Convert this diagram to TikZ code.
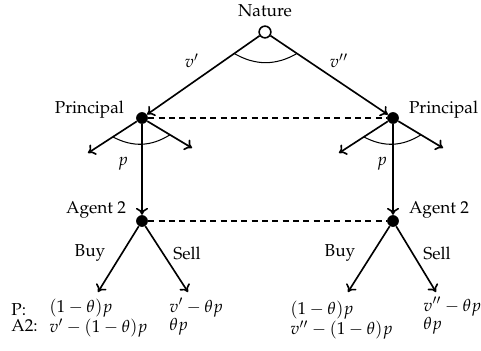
\documentclass[tikz,border=0pt]{standalone}
\usepackage[T1]{fontenc}
\usepackage{mathpazo}
\usetikzlibrary{calc,arrows.meta}
\begin{document}
\begin{tikzpicture}[x=0.58pt,y=-0.58pt,
  edge/.style={line width=0.95pt,-{To[length=4pt,width=7pt]}},
  dot/.style={circle,fill=black,inner sep=0pt,minimum size=6.8pt},
  root/.style={circle,draw=black,line width=0.9pt,fill=white,inner sep=0pt,minimum size=6.8pt},
  info/.style={line width=0.8pt,dash pattern=on 3.5pt off 2.5pt},
  arcl/.style={line width=0.6pt},
  lbl/.style={inner sep=1pt,font=\fontsize{10}{12}\selectfont},
  pay/.style={inner sep=0pt,align=left,font=\fontsize{10}{9.3}\selectfont}]
\useasboundingbox (0,0) rectangle (481,351);
% nodes
\node[root] (N) at (265,32) {};
\node[dot] (P1) at (142,118) {};
\node[dot] (P2) at (393,118) {};
\node[dot] (A1) at (142,221) {};
\node[dot] (A2) at (393,221) {};
\coordinate (L1) at (88,153);
\coordinate (R1) at (192,148);
\coordinate (L2) at (339,153);
\coordinate (R2) at (443,148);
\coordinate (B1) at (98,292);
\coordinate (S1) at (188,292);
\coordinate (B2) at (348,292);
\coordinate (S2) at (436,292);
% labels
\node[lbl] (nat) at (265,11) {Nature};
\node[lbl,anchor=east] (pl1) at (126,110) {Principal};
\node[lbl,anchor=west] (pl2) at (407,110) {Principal};
\node[lbl,anchor=east] (al1) at (128,210) {Agent 2};
\node[lbl,anchor=west] (al2) at (407,210) {Agent 2};
\node[lbl] (v1) at (192,61) {$v'$};
\node[lbl] (v2) at (339,61) {$v''$};
\node[lbl] (p1) at (123,164) {$p$};
\node[lbl] (p2) at (382,164) {$p$};
\node[lbl] (buy1) at (90,253) {Buy};
\node[lbl] (sell1) at (187,253) {Sell};
\node[lbl] (buy2) at (340,253) {Buy};
\node[lbl] (sell2) at (437,253) {Sell};
% payoffs
\node[pay,anchor=west] (Pl) at (11,318) {P:\\A2:};
\node[pay,anchor=west] (pay1) at (49,318) {$(1-\theta)p$\\$v'-(1-\theta)p$};
\node[pay,anchor=west] (pay2) at (169,317) {$v'-\theta p$\\$\theta p$};
\node[pay,anchor=west] (pay3) at (290,320) {$(1-\theta)p$\\$v''-(1-\theta)p$};
\node[pay,anchor=west] (pay4) at (423,316) {$v''-\theta p$\\$\theta p$};
% edges
\draw[edge] (N) -- (P1);
\draw[edge] (N) -- (P2);
\draw[edge] (P1) -- (L1);
\draw[edge] (P1) -- (R1);
\draw[edge] (P1) -- (A1);
\draw[edge] (P2) -- (L2);
\draw[edge] (P2) -- (R2);
\draw[edge] (P2) -- (A2);
\draw[edge] (A1) -- (B1);
\draw[edge] (A1) -- (S1);
\draw[edge] (A2) -- (B2);
\draw[edge] (A2) -- (S2);
% info sets
\draw[info] (P1) -- (P2);
\draw[info] (A1) -- (A2);
% arcs
\draw[arcl] ($(N)!0.25!(P1)$) to[bend right=30] ($(N)!0.25!(P2)$);
\draw[arcl] ($(P1)!0.54!(L1)$) to[bend right=30] ($(P1)!0.56!(R1)$);
\draw[arcl] ($(P2)!0.54!(L2)$) to[bend right=30] ($(P2)!0.56!(R2)$);
\end{tikzpicture}
\end{document}
